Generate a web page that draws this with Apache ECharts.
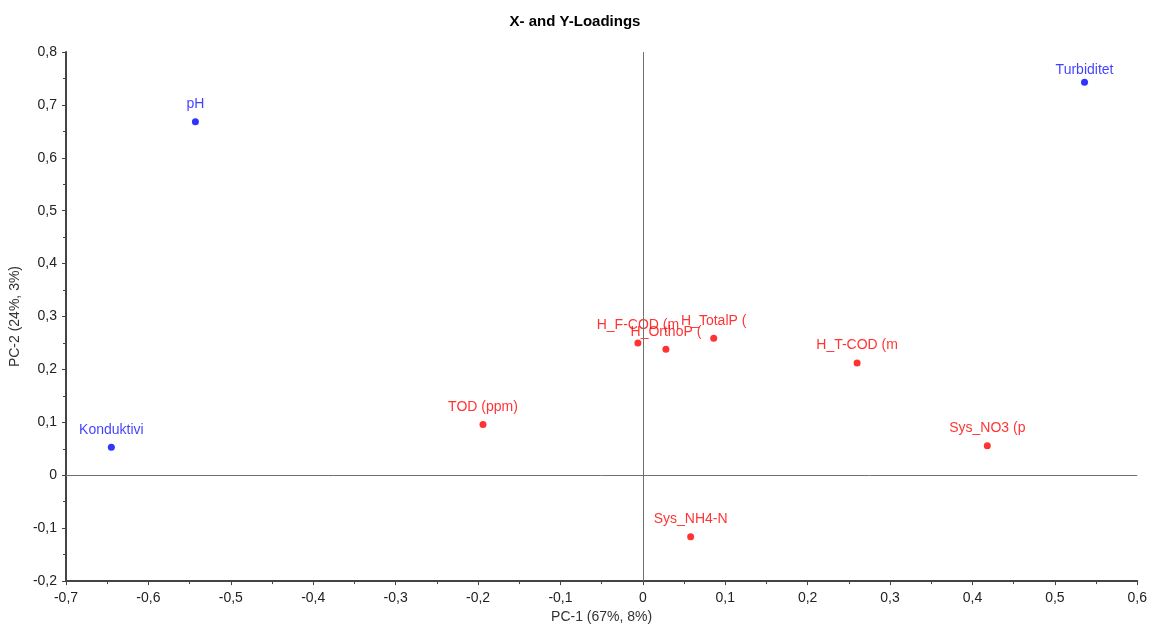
<!DOCTYPE html>
<html><head><meta charset="utf-8">
<script src="https://cdn.jsdelivr.net/npm/echarts@6/dist/echarts.min.js"></script>
<style>html,body{margin:0;padding:0;background:#fff}#c{width:1150px;height:629px}</style>
</head><body><div id="c"></div>
<script>
var xNames = ['pH', 'Turbiditet', 'Konduktivi'];
var xPC1 = [-0.543, 0.536, -0.645];
var xPC2 = [0.668, 0.743, 0.053];
var yNames = ['TOD (ppm)', 'H_F-COD (m', 'H_OrthoP (', 'H_TotalP (', 'H_T-COD (m', 'Sys_NO3 (p', 'Sys_NH4-N'];
var yPC1 = [-0.194, -0.006, 0.028, 0.086, 0.26, 0.418, 0.058];
var yPC2 = [0.096, 0.250, 0.238, 0.259, 0.212, 0.056, -0.116];

var labelTweaks = { 'Turbiditet': {distance: 2} };

function fmt(v){ return (Math.round(v*10)/10).toString().replace('.', ','); }
function build(names, a, b){
  return names.map(function(n,i){
    var d = {name:n, value:[a[i], b[i]]};
    if (labelTweaks[n]) d.label = labelTweaks[n];
    return d;
  });
}

var font = 'Liberation Sans, Arial, sans-serif';
var chart = echarts.init(document.getElementById('c'));
chart.setOption({
  animation:false,
  title:{text:'X- and Y-Loadings', left:'center', top:9, textStyle:{fontSize:15, fontWeight:'bold', color:'#000', fontFamily:font}},
  grid:{left:66, right:12, top:52, bottom:44},
  xAxis:{type:'value', min:-0.7, max:0.6, interval:0.1,
    name:'PC-1 (67%, 8%)', nameLocation:'middle', nameGap:28, nameTextStyle:{fontSize:14, color:'#333', fontFamily:font},
    axisLine:{onZero:false, lineStyle:{color:'#444', width:2}},
    axisTick:{show:true, length:4, lineStyle:{color:'#444'}},
    minorTick:{show:true, splitNumber:2, length:3, lineStyle:{color:'#444'}},
    splitLine:{show:false},
    axisLabel:{formatter:fmt, fontSize:14, color:'#222', fontFamily:font, margin:10}},
  yAxis:{type:'value', min:-0.2, max:0.8, interval:0.1,
    name:'PC-2 (24%, 3%)', nameLocation:'middle', nameGap:41, nameTextStyle:{fontSize:14, color:'#333', fontFamily:font},
    axisLine:{onZero:false, lineStyle:{color:'#444', width:2}},
    axisTick:{show:true, length:4, lineStyle:{color:'#444'}},
    minorTick:{show:true, splitNumber:2, length:3, lineStyle:{color:'#444'}},
    splitLine:{show:false},
    axisLabel:{formatter:fmt, fontSize:14, color:'#222', fontFamily:font, margin:9}},
  series:[
    {type:'scatter', data:build(xNames, xPC1, xPC2), symbolSize:7, itemStyle:{color:'#0000ff'},
     label:{show:true, position:'top', distance:7, formatter:'{b}', color:'#1010ff', fontSize:14, fontFamily:font},
     markLine:{silent:true, symbol:'none', label:{show:false}, lineStyle:{color:'#707070', width:1, type:'solid'},
       data:[{xAxis:0},{yAxis:0}]}},
    {type:'scatter', data:build(yNames, yPC1, yPC2), symbolSize:7, itemStyle:{color:'#ff0000'},
     label:{show:true, position:'top', distance:7, formatter:'{b}', color:'#ff0000', fontSize:14, fontFamily:font}}
  ]
});
</script></body></html>
